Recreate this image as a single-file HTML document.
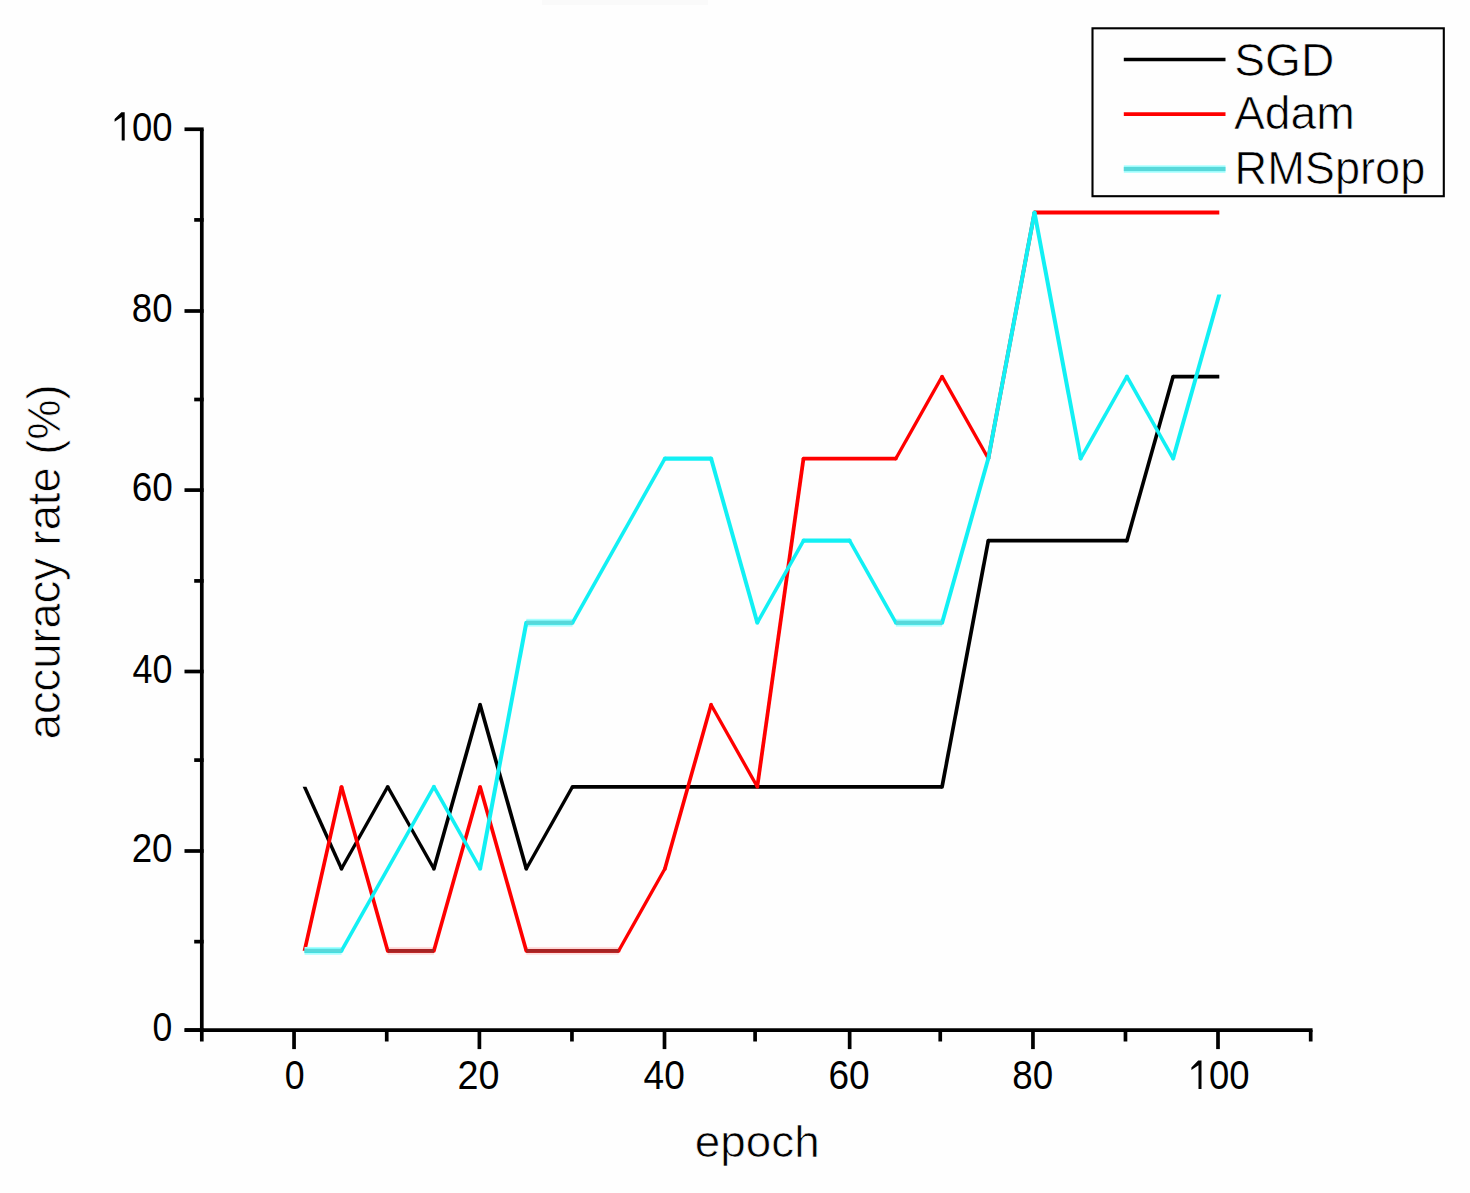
<!DOCTYPE html>
<html><head><meta charset="utf-8"><title>accuracy chart</title>
<style>
html,body{margin:0;padding:0;background:#fefefe;}
svg{display:block;font-family:"Liberation Sans",sans-serif;}
</style></head><body>
<svg width="1470" height="1193" viewBox="0 0 1470 1193">
<rect x="0" y="0" width="1470" height="1193" fill="#fefefe"/>
<rect x="542" y="0" width="166" height="5" fill="#fafafa"/>

<g stroke="#000" stroke-width="3.70" fill="none" stroke-linecap="butt">
<line x1="184.7" y1="1030.10" x2="1312.55" y2="1030.10"/>
<line x1="201.80" y1="129.25" x2="201.80" y2="1030.10"/>
<line x1="184.50" y1="1030.10" x2="203.65" y2="1030.10"/>
<line x1="194.20" y1="941.65" x2="203.65" y2="941.65"/>
<line x1="184.50" y1="851.00" x2="203.65" y2="851.00"/>
<line x1="194.20" y1="760.10" x2="203.65" y2="760.10"/>
<line x1="184.50" y1="671.50" x2="203.65" y2="671.50"/>
<line x1="194.20" y1="580.90" x2="203.65" y2="580.90"/>
<line x1="184.50" y1="490.10" x2="203.65" y2="490.10"/>
<line x1="194.20" y1="399.50" x2="203.65" y2="399.50"/>
<line x1="184.50" y1="311.00" x2="203.65" y2="311.00"/>
<line x1="194.20" y1="219.90" x2="203.65" y2="219.90"/>
<line x1="184.50" y1="129.25" x2="203.65" y2="129.25"/>
<line x1="201.80" y1="1030.10" x2="201.80" y2="1041.50"/>
<line x1="294.05" y1="1030.10" x2="294.05" y2="1049.10"/>
<line x1="386.73" y1="1030.10" x2="386.73" y2="1041.50"/>
<line x1="479.40" y1="1030.10" x2="479.40" y2="1049.10"/>
<line x1="571.95" y1="1030.10" x2="571.95" y2="1041.50"/>
<line x1="664.50" y1="1030.10" x2="664.50" y2="1049.10"/>
<line x1="755.10" y1="1030.10" x2="755.10" y2="1041.50"/>
<line x1="849.65" y1="1030.10" x2="849.65" y2="1049.10"/>
<line x1="940.25" y1="1030.10" x2="940.25" y2="1041.50"/>
<line x1="1032.95" y1="1030.10" x2="1032.95" y2="1049.10"/>
<line x1="1125.47" y1="1030.10" x2="1125.47" y2="1041.50"/>
<line x1="1218.00" y1="1030.10" x2="1218.00" y2="1049.10"/>
<line x1="1310.70" y1="1030.10" x2="1310.70" y2="1041.50"/>
</g>
<g fill="#000">
<path d="M7.1,0H10.1V28.3H7.1V4.7L0,9.4V6.8L6.8,0Z" transform="translate(114.60,112.30)"/>
<path d="M7.1,0H10.1V28.3H7.1V4.7L0,9.4V6.8L6.8,0Z" transform="translate(1191.40,1060.60)"/>
<text font-size="40" transform="translate(132.08,140.70) scale(0.9122,1)">00</text>
<text font-size="40" transform="translate(131.87,321.60) scale(0.9146,1)">80</text>
<text font-size="40" transform="translate(131.65,501.40) scale(0.9244,1)">60</text>
<text font-size="40" transform="translate(132.60,682.65) scale(0.8976,1)">40</text>
<text font-size="40" transform="translate(131.66,861.60) scale(0.9195,1)">20</text>
<text font-size="40" transform="translate(152.52,1041.30) scale(0.8895,1)">0</text>
<text font-size="40" transform="translate(284.77,1088.50) scale(0.8921,1)">0</text>
<text font-size="40" transform="translate(457.41,1088.70) scale(0.9439,1)">20</text>
<text font-size="40" transform="translate(643.57,1088.70) scale(0.9262,1)">40</text>
<text font-size="40" transform="translate(828.45,1088.70) scale(0.9268,1)">60</text>
<text font-size="40" transform="translate(1012.36,1088.70) scale(0.9183,1)">80</text>
<text font-size="40" transform="translate(1209.08,1088.70) scale(0.9122,1)">00</text>
<text font-size="46.6" stroke="#fefefe" stroke-width="0.7" transform="translate(1234.33,75.50) scale(0.9905,1)">SGD</text>
<text font-size="46.6" stroke="#fefefe" stroke-width="0.7" transform="translate(1233.91,128.90) scale(0.9932,1)">Adam</text>
<text font-size="46.6" stroke="#fefefe" stroke-width="0.7" transform="translate(1234.62,183.90) scale(0.9691,1)">RMSprop</text>
<text font-size="45.0" stroke="#fefefe" stroke-width="0.7" transform="translate(694.76,1156.60) scale(1.0188,1)">epoch</text>
<text font-size="46.0" stroke="#fefefe" stroke-width="0.7" transform="translate(60.00,739.27) rotate(-90) scale(0.9851,1)">accuracy rate (%)</text>
</g>
<g fill="#000">
<polygon points="302.64,786.78 306.44,786.78 343.40,868.82 339.60,868.82"/>
<polygon points="339.60,868.82 343.40,868.82 389.60,786.78 385.80,786.78"/>
<polygon points="385.80,786.78 389.60,786.78 435.80,868.82 432.00,868.82"/>
<polygon points="432.00,868.82 435.80,868.82 482.00,704.74 478.20,704.74"/>
<polygon points="478.20,704.74 482.00,704.74 528.20,868.82 524.40,868.82"/>
<polygon points="524.40,868.82 528.20,868.82 574.40,786.78 570.60,786.78"/>
<polygon points="572.50,784.88 572.50,788.68 942.10,788.68 942.10,784.88"/>
<polygon points="940.20,786.78 944.00,786.78 990.20,540.66 986.40,540.66"/>
<polygon points="988.30,538.76 988.30,542.56 1126.90,542.56 1126.90,538.76"/>
<polygon points="1125.00,540.66 1128.80,540.66 1175.00,376.58 1171.20,376.58"/>
<polygon points="1173.10,374.68 1173.10,378.48 1219.30,378.48 1219.30,374.68"/>
<circle cx="341.50" cy="868.82" r="1.90"/>
<circle cx="387.70" cy="786.78" r="1.90"/>
<circle cx="433.90" cy="868.82" r="1.90"/>
<circle cx="480.10" cy="704.74" r="1.90"/>
<circle cx="526.30" cy="868.82" r="1.90"/>
<circle cx="572.50" cy="786.78" r="1.90"/>
<circle cx="942.10" cy="786.78" r="1.90"/>
<circle cx="988.30" cy="540.66" r="1.90"/>
<circle cx="1126.90" cy="540.66" r="1.90"/>
<circle cx="1173.10" cy="376.58" r="1.90"/>
</g>
<rect x="387.70" y="946.96" width="46.20" height="2.00" fill="#ffdede"/><rect x="387.70" y="952.76" width="46.20" height="2.00" fill="#ffdede"/>
<rect x="526.30" y="946.96" width="92.40" height="2.00" fill="#ffdede"/><rect x="526.30" y="952.76" width="92.40" height="2.00" fill="#ffdede"/>
<g fill="#f00">
<polygon points="302.64,950.86 306.44,950.86 343.40,786.78 339.60,786.78"/>
<polygon points="339.60,786.78 343.40,786.78 389.60,950.86 385.80,950.86"/>
<polygon points="387.70,948.96 387.70,952.76 433.90,952.76 433.90,948.96"/>
<polygon points="432.00,950.86 435.80,950.86 482.00,786.78 478.20,786.78"/>
<polygon points="478.20,786.78 482.00,786.78 528.20,950.86 524.40,950.86"/>
<polygon points="526.30,948.96 526.30,952.76 618.70,952.76 618.70,948.96"/>
<polygon points="616.80,950.86 620.60,950.86 666.80,868.82 663.00,868.82"/>
<polygon points="663.00,868.82 666.80,868.82 713.00,704.74 709.20,704.74"/>
<polygon points="709.20,704.74 713.00,704.74 759.20,786.78 755.40,786.78"/>
<polygon points="755.40,786.78 759.20,786.78 805.40,458.62 801.60,458.62"/>
<polygon points="803.50,456.72 803.50,460.52 895.90,460.52 895.90,456.72"/>
<polygon points="894.00,458.62 897.80,458.62 944.00,376.58 940.20,376.58"/>
<polygon points="940.20,376.58 944.00,376.58 990.20,458.62 986.40,458.62"/>
<polygon points="986.40,458.62 990.20,458.62 1036.40,212.50 1032.60,212.50"/>
<polygon points="1034.50,210.60 1034.50,214.40 1219.30,214.40 1219.30,210.60"/>
<circle cx="341.50" cy="786.78" r="1.90"/>
<circle cx="387.70" cy="950.86" r="1.90"/>
<circle cx="433.90" cy="950.86" r="1.90"/>
<circle cx="480.10" cy="786.78" r="1.90"/>
<circle cx="526.30" cy="950.86" r="1.90"/>
<circle cx="618.70" cy="950.86" r="1.90"/>
<circle cx="664.90" cy="868.82" r="1.90"/>
<circle cx="711.10" cy="704.74" r="1.90"/>
<circle cx="757.30" cy="786.78" r="1.90"/>
<circle cx="803.50" cy="458.62" r="1.90"/>
<circle cx="895.90" cy="458.62" r="1.90"/>
<circle cx="942.10" cy="376.58" r="1.90"/>
<circle cx="988.30" cy="458.62" r="1.90"/>
<circle cx="1034.50" cy="212.50" r="1.90"/>
</g>
<rect x="387.70" y="948.96" width="46.20" height="3.80" fill="#a62424"/>
<rect x="526.30" y="948.96" width="92.40" height="3.80" fill="#a62424"/>
<rect x="304.54" y="946.96" width="36.96" height="2.00" fill="#a8ffff"/><rect x="304.54" y="952.76" width="36.96" height="2.00" fill="#a8ffff"/>
<rect x="526.30" y="618.80" width="46.20" height="2.00" fill="#a8ffff"/><rect x="526.30" y="624.60" width="46.20" height="2.00" fill="#a8ffff"/>
<rect x="895.90" y="618.80" width="46.20" height="2.00" fill="#a8ffff"/><rect x="895.90" y="624.60" width="46.20" height="2.00" fill="#a8ffff"/>
<g fill="#12f0f4">
<polygon points="304.54,948.81 304.54,952.91 341.50,952.91 341.50,948.81"/>
<polygon points="339.45,950.86 343.55,950.86 435.95,786.78 431.85,786.78"/>
<polygon points="431.85,786.78 435.95,786.78 482.15,868.82 478.05,868.82"/>
<polygon points="478.05,868.82 482.15,868.82 528.35,622.70 524.25,622.70"/>
<polygon points="526.30,620.65 526.30,624.75 572.50,624.75 572.50,620.65"/>
<polygon points="570.45,622.70 574.55,622.70 666.95,458.62 662.85,458.62"/>
<polygon points="664.90,456.57 664.90,460.67 711.10,460.67 711.10,456.57"/>
<polygon points="709.05,458.62 713.15,458.62 759.35,622.70 755.25,622.70"/>
<polygon points="755.25,622.70 759.35,622.70 805.55,540.66 801.45,540.66"/>
<polygon points="803.50,538.61 803.50,542.71 849.70,542.71 849.70,538.61"/>
<polygon points="847.65,540.66 851.75,540.66 897.95,622.70 893.85,622.70"/>
<polygon points="895.90,620.65 895.90,624.75 942.10,624.75 942.10,620.65"/>
<polygon points="940.05,622.70 944.15,622.70 990.35,458.62 986.25,458.62"/>
<polygon points="986.25,458.62 990.35,458.62 1036.55,212.50 1032.45,212.50"/>
<polygon points="1032.45,212.50 1036.55,212.50 1082.75,458.62 1078.65,458.62"/>
<polygon points="1078.65,458.62 1082.75,458.62 1128.95,376.58 1124.85,376.58"/>
<polygon points="1124.85,376.58 1128.95,376.58 1175.15,458.62 1171.05,458.62"/>
<polygon points="1171.05,458.62 1175.15,458.62 1221.35,294.54 1217.25,294.54"/>
<circle cx="341.50" cy="950.86" r="2.05"/>
<circle cx="433.90" cy="786.78" r="2.05"/>
<circle cx="480.10" cy="868.82" r="2.05"/>
<circle cx="526.30" cy="622.70" r="2.05"/>
<circle cx="572.50" cy="622.70" r="2.05"/>
<circle cx="664.90" cy="458.62" r="2.05"/>
<circle cx="711.10" cy="458.62" r="2.05"/>
<circle cx="757.30" cy="622.70" r="2.05"/>
<circle cx="803.50" cy="540.66" r="2.05"/>
<circle cx="849.70" cy="540.66" r="2.05"/>
<circle cx="895.90" cy="622.70" r="2.05"/>
<circle cx="942.10" cy="622.70" r="2.05"/>
<circle cx="988.30" cy="458.62" r="2.05"/>
<circle cx="1034.50" cy="212.50" r="2.05"/>
<circle cx="1080.70" cy="458.62" r="2.05"/>
<circle cx="1126.90" cy="376.58" r="2.05"/>
<circle cx="1173.10" cy="458.62" r="2.05"/>
</g>
<rect x="304.54" y="948.96" width="36.96" height="3.80" fill="#58d8da"/>
<rect x="526.30" y="620.80" width="46.20" height="3.80" fill="#58d8da"/>
<rect x="895.90" y="620.80" width="46.20" height="3.80" fill="#58d8da"/>
<rect x="1092.5" y="28.3" width="351.3" height="167.9" fill="none" stroke="#000" stroke-width="2.1"/>
<line x1="1123.8" y1="59.55" x2="1225.5" y2="59.55" stroke="#000" stroke-width="3.5"/>
<line x1="1123.8" y1="114.1" x2="1225.5" y2="114.1" stroke="#f00" stroke-width="3.8"/>
<rect x="1123.8" y="165.3" width="101.7" height="7.5" fill="#a8ffff"/>
<rect x="1123.8" y="166.9" width="101.7" height="4.2" fill="#58d8da"/>
</svg>
</body></html>
